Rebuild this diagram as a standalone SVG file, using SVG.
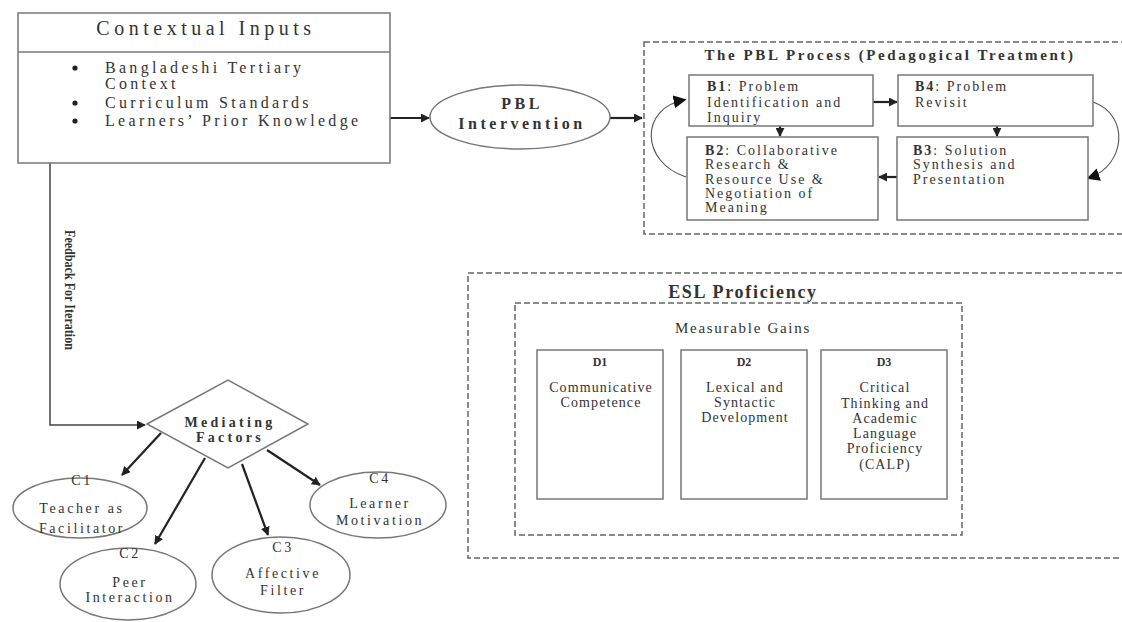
<svg xmlns="http://www.w3.org/2000/svg" width="1122" height="622" viewBox="0 0 1122 622">
<defs>
<marker id="ah" viewBox="0 0 10 10" refX="9" refY="5" markerWidth="9" markerHeight="9" markerUnits="userSpaceOnUse" orient="auto">
<path d="M0,0 L10,5 L0,10 z" fill="#222"/>
</marker>
<marker id="ahb" viewBox="0 0 10 10" refX="8" refY="5" markerWidth="13" markerHeight="13" markerUnits="userSpaceOnUse" orient="auto">
<path d="M0,0 L10,5 L0,10 z" fill="#111"/>
</marker>
</defs>
<style>
text{font-family:"Liberation Serif","Times New Roman",serif;fill:#333}
.box{fill:#fff;stroke:#777;stroke-width:1.5}
.dash{fill:none;stroke:#666;stroke-width:1.5;stroke-dasharray:6 3}
.conn{fill:none;stroke:#444;stroke-width:1.5}
.curve{fill:none;stroke:#555;stroke-width:1.1}
.thick{fill:none;stroke:#222;stroke-width:2.2}
.title{font-size:20px;letter-spacing:4.5px;text-anchor:middle}
.bul{font-size:16px;letter-spacing:3.3px}
.b{font-weight:bold}
.bt{font-size:14px;letter-spacing:2px}
.ct{font-size:14px;letter-spacing:2.6px;text-anchor:middle}
.dt{font-size:14px;letter-spacing:1.1px;text-anchor:middle}
.mid{text-anchor:middle}
</style>
<rect width="1122" height="622" fill="#fff"/>

<g id="connectors">
<line class="thick" x1="390" y1="118" x2="429" y2="118" marker-end="url(#ah)"/>
<line class="thick" x1="610" y1="118" x2="642" y2="118" marker-end="url(#ah)"/>
<line class="thick" x1="873" y1="102" x2="897" y2="102" marker-end="url(#ah)"/>
<line class="thick" x1="780" y1="126" x2="780" y2="136" marker-end="url(#ah)"/>
<line class="thick" x1="997" y1="126" x2="997" y2="136" marker-end="url(#ah)"/>
<line class="thick" x1="897" y1="177" x2="879" y2="177" marker-end="url(#ah)"/>
<path class="curve" d="M686,177 C640,162 640,108 684,100" marker-end="url(#ahb)"/>
<path class="curve" d="M1093,102 C1130,115 1126,165 1089,178" marker-end="url(#ahb)"/>
<polyline class="conn" points="50,163 50,425 145,425" marker-end="url(#ah)"/>
<text transform="translate(70,290) rotate(90)" class="b mid" font-size="15" textLength="120" lengthAdjust="spacingAndGlyphs" dy="5">Feedback For Iteration</text>
<line class="thick" x1="161" y1="433" x2="122" y2="475" marker-end="url(#ah)"/>
<line class="thick" x1="205" y1="458" x2="155" y2="544" marker-end="url(#ah)"/>
<line class="thick" x1="242" y1="464" x2="268" y2="535" marker-end="url(#ah)"/>
<line class="thick" x1="267" y1="450" x2="320" y2="485" marker-end="url(#ah)"/>
</g>

<g id="contextual-inputs">
<rect class="box" x="18" y="13" width="372" height="150"/>
<line x1="18" y1="52" x2="390" y2="52" stroke="#777" stroke-width="1.5"/>
<text class="title" x="206" y="35">Contextual Inputs</text>
<circle cx="75" cy="68" r="2.6" fill="#222"/>
<circle cx="75" cy="103" r="2.6" fill="#222"/>
<circle cx="75" cy="121" r="2.6" fill="#222"/>
<text class="bul" x="105" y="73">Bangladeshi Tertiary</text>
<text class="bul" x="105" y="89">Context</text>
<text class="bul" x="105" y="108">Curriculum Standards</text>
<text class="bul" x="105" y="126">Learners’ Prior Knowledge</text>
</g>

<g id="pbl-intervention">
<ellipse class="box" cx="520" cy="117" rx="90" ry="32"/>
<text class="b mid" x="522" y="109" font-size="16" letter-spacing="3.5">PBL</text>
<text class="b mid" x="522" y="129" font-size="16" letter-spacing="3.5">Intervention</text>
</g>

<g id="pbl-process">
<rect class="dash" x="644" y="42" width="490" height="192"/>
<text class="b mid" x="890" y="60" font-size="15" letter-spacing="2.6">The PBL Process (Pedagogical Treatment)</text>
</g>

<g id="b1">
<rect class="box" x="689" y="75" width="184" height="51"/>
<text class="bt" x="707" y="91"><tspan class="b">B1</tspan>: Problem</text>
<text class="bt" x="707" y="107">Identification and</text>
<text class="bt" x="707" y="122">Inquiry</text>
</g>
<g id="b4">
<rect class="box" x="898" y="75" width="195" height="51"/>
<text class="bt" x="915" y="91"><tspan class="b">B4</tspan>: Problem</text>
<text class="bt" x="915" y="107">Revisit</text>
</g>
<g id="b2">
<rect class="box" x="687" y="137" width="191" height="83"/>
<text class="bt" x="705" y="155"><tspan class="b">B2</tspan>: Collaborative</text>
<text class="bt" x="705" y="169">Research &amp;</text>
<text class="bt" x="705" y="184">Resource Use &amp;</text>
<text class="bt" x="705" y="198">Negotiation of</text>
<text class="bt" x="705" y="212">Meaning</text>
</g>
<g id="b3">
<rect class="box" x="897" y="137" width="191" height="83"/>
<text class="bt" x="913" y="155"><tspan class="b">B3</tspan>: Solution</text>
<text class="bt" x="913" y="169">Synthesis and</text>
<text class="bt" x="913" y="184">Presentation</text>
</g>

<g id="mediating-factors">
<polygon class="box" points="147,424 228,380 308,424 228,468"/>
<text class="b mid" x="230" y="427" font-size="14" letter-spacing="3.3">Mediating</text>
<text class="b mid" x="230" y="442" font-size="14" letter-spacing="3.3">Factors</text>
</g>

<g id="c1">
<ellipse class="box" cx="80" cy="508" rx="67" ry="30"/>
<text class="ct" x="82" y="485">C1</text>
<text class="ct" x="82" y="513">Teacher as</text>
<text class="ct" x="82" y="533">Facilitator</text>
</g>
<g id="c2">
<ellipse class="box" cx="128" cy="584" rx="68" ry="36"/>
<text class="ct" x="130" y="558">C2</text>
<text class="ct" x="130" y="587">Peer</text>
<text class="ct" x="130" y="602">Interaction</text>
</g>
<g id="c3">
<ellipse class="box" cx="281" cy="575" rx="69" ry="38"/>
<text class="ct" x="283" y="552">C3</text>
<text class="ct" x="283" y="578">Affective</text>
<text class="ct" x="283" y="595">Filter</text>
</g>
<g id="c4">
<ellipse class="box" cx="378" cy="505" rx="68" ry="33"/>
<text class="ct" x="380" y="483">C4</text>
<text class="ct" x="380" y="508">Learner</text>
<text class="ct" x="380" y="525">Motivation</text>
</g>

<g id="esl-proficiency">
<rect class="dash" x="468" y="273" width="660" height="285"/>
<text class="b mid" x="743" y="298" font-size="18" letter-spacing="1.7">ESL Proficiency</text>
</g>
<g id="measurable-gains">
<rect class="dash" x="515" y="303" width="447" height="232"/>
<text class="mid" x="743" y="333" font-size="15" letter-spacing="1.7">Measurable Gains</text>
</g>
<g id="d1">
<rect class="box" x="537" y="350" width="126" height="149"/>
<text class="b mid" x="600" y="366" font-size="12">D1</text>
<text class="dt" x="601" y="392">Communicative</text>
<text class="dt" x="601" y="407">Competence</text>
</g>
<g id="d2">
<rect class="box" x="681" y="350" width="126" height="149"/>
<text class="b mid" x="744" y="366" font-size="12">D2</text>
<text class="dt" x="745" y="392">Lexical and</text>
<text class="dt" x="745" y="407">Syntactic</text>
<text class="dt" x="745" y="422">Development</text>
</g>
<g id="d3">
<rect class="box" x="821" y="350" width="126" height="149"/>
<text class="b mid" x="884" y="366" font-size="12">D3</text>
<text class="dt" x="885" y="392">Critical</text>
<text class="dt" x="885" y="408">Thinking and</text>
<text class="dt" x="885" y="423">Academic</text>
<text class="dt" x="885" y="438">Language</text>
<text class="dt" x="885" y="453">Proficiency</text>
<text class="dt" x="885" y="469">(CALP)</text>
</g>
</svg>
